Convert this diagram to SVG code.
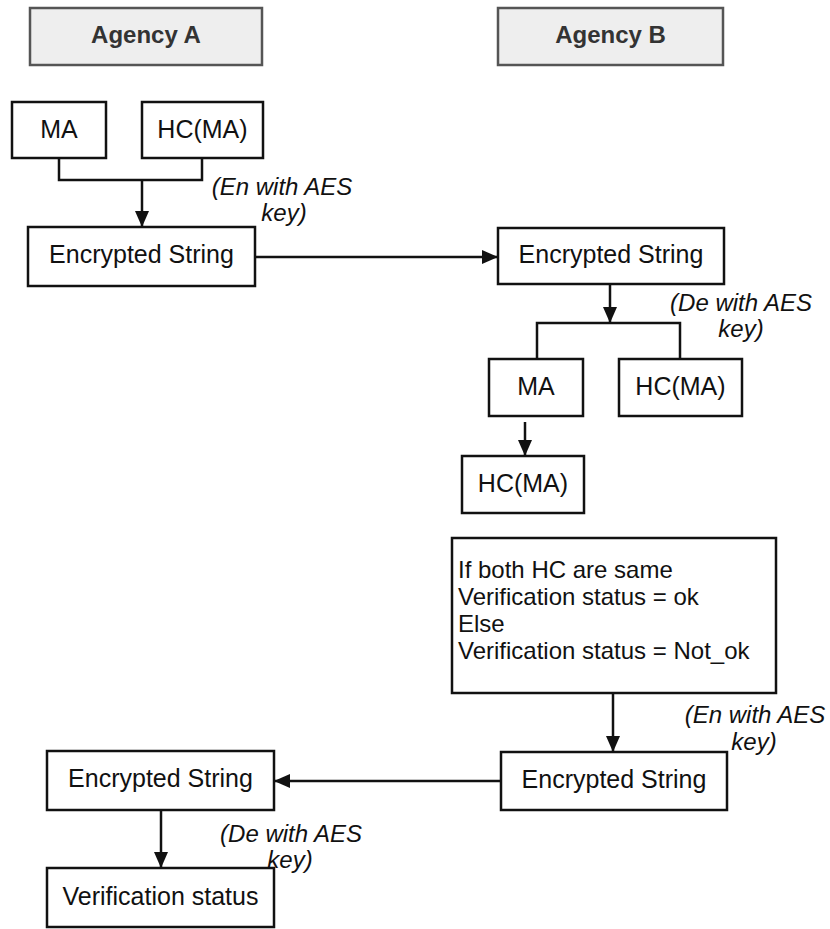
<svg xmlns="http://www.w3.org/2000/svg" width="830" height="929" viewBox="0 0 830 929">
  <style>
    .box { fill: #ffffff; stroke: #111111; stroke-width: 2.5; }
    .agency { fill: #eeeeee; stroke: #555555; stroke-width: 2.5; }
    .lbl { font-family: "Liberation Sans", Arial, sans-serif; font-size: 25px; fill: #111111; text-anchor: middle; }
    .head { font-family: "Liberation Sans", Arial, sans-serif; font-size: 24px; font-weight: bold; fill: #333333; text-anchor: middle; }
    .body { font-family: "Liberation Sans", Arial, sans-serif; font-size: 24px; fill: #111111; }
    .note { font-family: "Liberation Sans", Arial, sans-serif; font-size: 24px; font-style: italic; fill: #111111; text-anchor: middle; }
    .wire { fill: none; stroke: #111111; stroke-width: 2.5; }
    .arrow { fill: none; stroke: #111111; stroke-width: 2.5; marker-end: url(#head); }
  </style>
  <defs>
    <marker id="head" markerUnits="userSpaceOnUse" markerWidth="18" markerHeight="18" viewBox="0 0 18 18" refX="17" refY="9" orient="auto">
      <path d="M1 2 L17 9 L1 16 Z" fill="#111111"/>
    </marker>
  </defs>

  <!-- column headers -->
  <g id="agency-a">
    <rect class="agency" x="30" y="8" width="232" height="57"/>
    <text class="head" x="146" y="43">Agency A</text>
  </g>
  <g id="agency-b">
    <rect class="agency" x="498" y="8" width="225" height="57"/>
    <text class="head" x="610.5" y="43">Agency B</text>
  </g>

  <!-- sender side -->
  <g id="a-ma">
    <rect class="box" x="12" y="102" width="94" height="56"/>
    <text class="lbl" x="59" y="138">MA</text>
  </g>
  <g id="a-hc">
    <rect class="box" x="142" y="102" width="121" height="56"/>
    <text class="lbl" x="202.5" y="138">HC(MA)</text>
  </g>
  <g id="a-enc">
    <rect class="box" x="28" y="227" width="227" height="59"/>
    <text class="lbl" x="141.5" y="263">Encrypted String</text>
  </g>

  <!-- receiver side -->
  <g id="b-enc">
    <rect class="box" x="498" y="228" width="226" height="56"/>
    <text class="lbl" x="611" y="263">Encrypted String</text>
  </g>
  <g id="b-ma">
    <rect class="box" x="489" y="359" width="94" height="57"/>
    <text class="lbl" x="536" y="395">MA</text>
  </g>
  <g id="b-hc">
    <rect class="box" x="619" y="359" width="123" height="57"/>
    <text class="lbl" x="680.5" y="395">HC(MA)</text>
  </g>
  <g id="b-hc2">
    <rect class="box" x="462" y="456" width="122" height="57"/>
    <text class="lbl" x="523" y="492">HC(MA)</text>
  </g>
  <g id="b-check">
    <rect class="box" x="452" y="538" width="324" height="155"/>
    <text class="body" x="458" y="578">If both HC are same</text>
    <text class="body" x="458" y="605">Verification status = ok</text>
    <text class="body" x="458" y="632">Else</text>
    <text class="body" x="458" y="659">Verification status = Not_ok</text>
  </g>
  <g id="b-enc2">
    <rect class="box" x="501" y="752" width="226" height="58"/>
    <text class="lbl" x="614" y="788">Encrypted String</text>
  </g>

  <!-- back at sender -->
  <g id="a-enc2">
    <rect class="box" x="47" y="751" width="227" height="59"/>
    <text class="lbl" x="160.5" y="787">Encrypted String</text>
  </g>
  <g id="a-status">
    <rect class="box" x="47" y="868" width="227" height="59"/>
    <text class="lbl" x="160.5" y="905">Verification status</text>
  </g>

  <!-- connectors -->
  <g id="connectors">
    <path class="wire" d="M59 158 V180 H202 V158"/>
    <path class="arrow" d="M142 180 V227"/>
    <path class="arrow" d="M255 257 H498"/>
    <path class="arrow" d="M610 284 V323"/>
    <path class="wire" d="M537 359 V323 H680 V359"/>
    <path class="arrow" d="M525 422 V456"/>
    <path class="arrow" d="M613 693 V752"/>
    <path class="arrow" d="M501 781 H274"/>
    <path class="arrow" d="M161 810 V868"/>
  </g>

  <!-- operation notes -->
  <g id="notes">
    <text class="note" x="282" y="195">(En with AES</text>
    <text class="note" x="284" y="221">key)</text>
    <text class="note" x="741" y="311">(De with AES</text>
    <text class="note" x="741" y="337">key)</text>
    <text class="note" x="755" y="723">(En with AES</text>
    <text class="note" x="754" y="750">key)</text>
    <text class="note" x="291" y="842">(De with AES</text>
    <text class="note" x="290" y="868">key)</text>
  </g>
</svg>
